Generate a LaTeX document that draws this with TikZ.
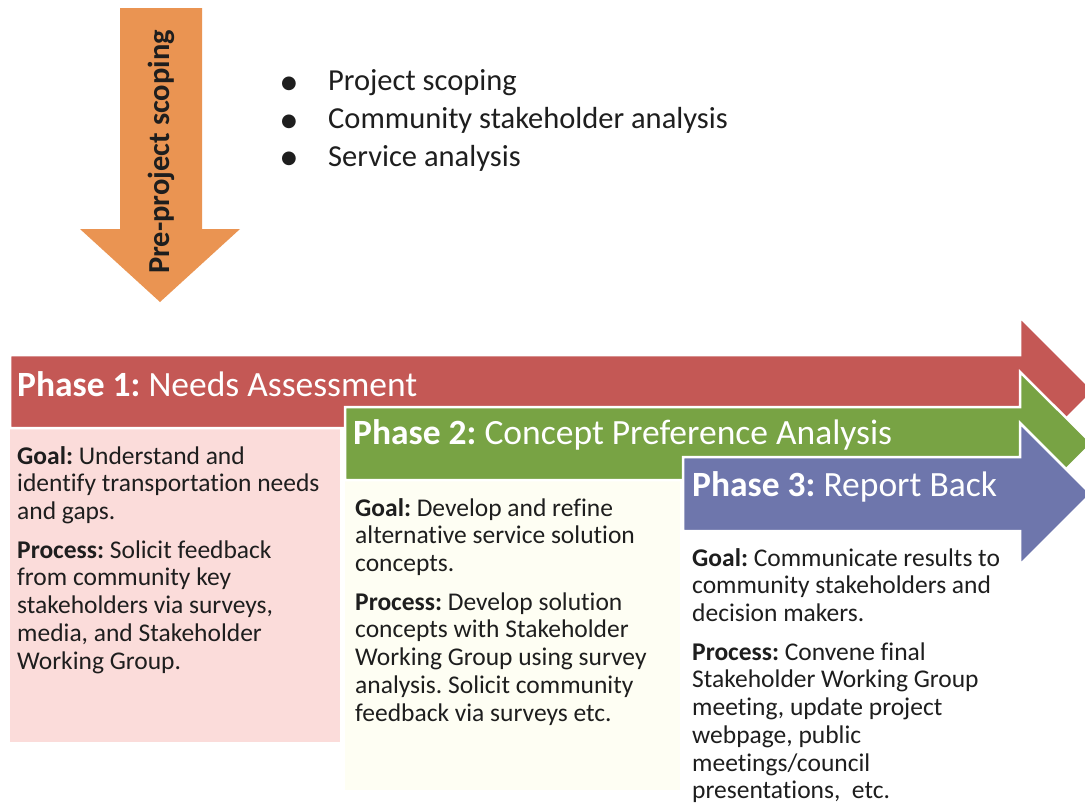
\documentclass[tikz,border=0pt]{standalone}
\usepackage{fontspec}
\setmainfont{Carlito}[Ligatures={NoCommon,TeX}]
\newfontfamily\dejavu{DejaVu Sans}
\frenchspacing
\definecolor{phred}{RGB}{196,88,85}
\definecolor{phgreen}{RGB}{120,163,68}
\definecolor{phblue}{RGB}{110,118,172}
\definecolor{preorange}{RGB}{234,148,82}
\definecolor{pinkbox}{RGB}{251,220,218}
\definecolor{creambox}{RGB}{254,254,243}
\definecolor{bodytext}{RGB}{30,30,30}
\tikzset{
  phasearrow/.style={draw=white, line width=2.5pt, line join=miter},
  titletext/.style={anchor=west, inner sep=0pt, text=white, font=\fontsize{35.5}{40}\selectfont},
  bodybox/.style={anchor=north west, inner sep=0pt, align=left, text=bodytext, font=\fontsize{25.5}{27.7}\selectfont},
  bullettext/.style={anchor=west, inner sep=0pt, text=bodytext, font=\fontsize{30.5}{37}\selectfont},
  bulletdot/.style={anchor=center, inner sep=0pt, text=bodytext, font=\fontsize{18}{20}\selectfont}
}
\begin{document}
\begin{tikzpicture}[x=1pt,y=-1pt]
\useasboundingbox (0,0) rectangle (1085,809);
\fill[white] (0,0) rectangle (1085,809);
\clip (0,0) rectangle (1085,809);
% background boxes
\fill[pinkbox] (10,428) rectangle (340,742);
\fill[creambox] (345,480) rectangle (680,790);
% pre-project arrow
\fill[preorange] (120,8) -- (202,8) -- (202,229) -- (240,229) -- (160,302) -- (80,229) -- (120,229) -- cycle;
\node[rotate=90, inner sep=0pt, text=bodytext, font=\fontsize{30.5}{34}\selectfont\bfseries] (pre) at (161,152) {Pre-project scoping};
% bullets
\node[bulletdot] (b1) at (289,84) {\dejavu ●};
\node[bulletdot] (b2) at (289,122) {\dejavu ●};
\node[bulletdot] (b3) at (289,159) {\dejavu ●};
\node[bullettext] (t1) at (328,83) {Project scoping};
\node[bullettext] (t2) at (328,120) {Community stakeholder analysis};
\node[bullettext] (t3) at (328,158) {Service analysis};
% phase arrows
\filldraw[phasearrow, fill=phred] (10,355) -- (1020,355) -- (1020,317) -- (1094,391) -- (1020,465) -- (1020,428) -- (10,428) -- cycle;
\filldraw[phasearrow, fill=phgreen] (345,407) -- (1020,407) -- (1020,372) -- (1092,443.5) -- (1020,515) -- (1020,480) -- (345,480) -- cycle;
\filldraw[phasearrow, fill=phblue] (683,457) -- (1020,457) -- (1020,423) -- (1091,494) -- (1020,565) -- (1020,531) -- (683,531) -- cycle;
% titles
\node[titletext] (p1) at (17,384) {\textbf{Phase 1:} Needs Assessment};
\node[titletext] (p2) at (353,435) {\textbf{Phase 2:} Concept Preference Analysis};
\node[titletext] (p3) at (692,487) {\textbf{Phase 3:} Report Back};
% bodies
\node[bodybox] (d1) at (17,446) {\textbf{Goal:} Understand and\\identify transportation needs\\and gaps.\\[11pt]\textbf{Process:} Solicit feedback\\from community key\\stakeholders via surveys,\\media, and Stakeholder\\Working Group.};
\node[bodybox] (d2) at (355,498) {\textbf{Goal:} Develop and refine\\alternative service solution\\concepts.\\[11pt]\textbf{Process:} Develop solution\\concepts with Stakeholder\\Working Group using survey\\analysis. Solicit community\\feedback via surveys etc.};
\node[bodybox] (d3) at (692,548) {\textbf{Goal:} Communicate results to\\community stakeholders and\\decision makers.\\[11pt]\textbf{Process:} Convene final\\Stakeholder Working Group\\meeting, update project\\webpage, public\\meetings/council\\presentations,\ \ etc.};
\end{tikzpicture}
\end{document}
